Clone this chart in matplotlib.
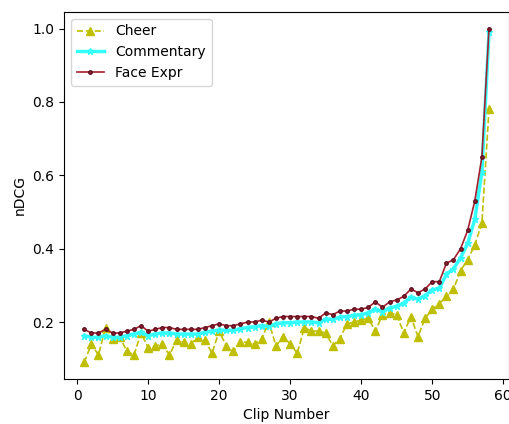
import matplotlib.pyplot as plt

clips = list(range(1, 59))

cheer = [0.09, 0.14, 0.11, 0.185, 0.155, 0.16, 0.12, 0.11, 0.17, 0.13,
         0.135, 0.14, 0.11, 0.15, 0.145, 0.14, 0.16, 0.15, 0.115, 0.175,
         0.135, 0.12, 0.145, 0.145, 0.14, 0.155, 0.2, 0.135, 0.16, 0.14,
         0.115, 0.185, 0.175, 0.175, 0.17, 0.135, 0.155, 0.195, 0.2, 0.205,
         0.21, 0.175, 0.22, 0.225, 0.22, 0.17, 0.215, 0.16, 0.21, 0.235,
         0.25, 0.27, 0.29, 0.34, 0.37, 0.41, 0.47, 0.78]

face = [0.18, 0.17, 0.17, 0.18, 0.17, 0.17, 0.175, 0.18, 0.19, 0.175,
        0.18, 0.185, 0.185, 0.18, 0.18, 0.18, 0.18, 0.185, 0.19, 0.195,
        0.19, 0.19, 0.195, 0.2, 0.2, 0.205, 0.2, 0.21, 0.215, 0.215,
        0.215, 0.215, 0.215, 0.21, 0.225, 0.22, 0.23, 0.23, 0.235, 0.235,
        0.24, 0.255, 0.24, 0.255, 0.26, 0.27, 0.29, 0.28, 0.29, 0.31,
        0.31, 0.36, 0.37, 0.40, 0.45, 0.53, 0.65, 1.0]

commentary = [0.163, 0.158, 0.158, 0.163, 0.158, 0.158, 0.163, 0.167, 0.172, 0.163,
              0.167, 0.17, 0.17, 0.167, 0.167, 0.167, 0.167, 0.172, 0.175, 0.178,
              0.177, 0.177, 0.182, 0.185, 0.187, 0.19, 0.188, 0.195, 0.198, 0.198,
              0.2, 0.2, 0.2, 0.198, 0.208, 0.207, 0.213, 0.215, 0.218, 0.22,
              0.225, 0.235, 0.228, 0.238, 0.243, 0.252, 0.268, 0.262, 0.272, 0.288,
              0.292, 0.33, 0.345, 0.375, 0.415, 0.48, 0.61, 0.99]

fig = plt.figure(figsize=(5.1, 4.24), dpi=100)
ax = fig.add_axes([0.1255, 0.106, 0.873, 0.866])

ax.plot(clips, cheer, linestyle='--', marker='^', color='#bfbf00', markersize=6,
        linewidth=1.2, label='Cheer')
ax.plot(clips, commentary, linestyle='-', marker='*', color='#33ffff', markersize=5,
        linewidth=2.5, label='Commentary')
ax.plot(clips, face, linestyle='-', marker='.', color='#a3202e', markersize=5,
        markeredgecolor='#5a1020', linewidth=1.2, label='Face Expr')

ax.set_xlabel('Clip Number')
ax.set_ylabel('nDCG')
ax.set_xticks([0, 10, 20, 30, 40, 50, 60])
ax.set_yticks([0.2, 0.4, 0.6, 0.8, 1.0])
ax.legend(loc='upper left')

plt.savefig('out.png')
